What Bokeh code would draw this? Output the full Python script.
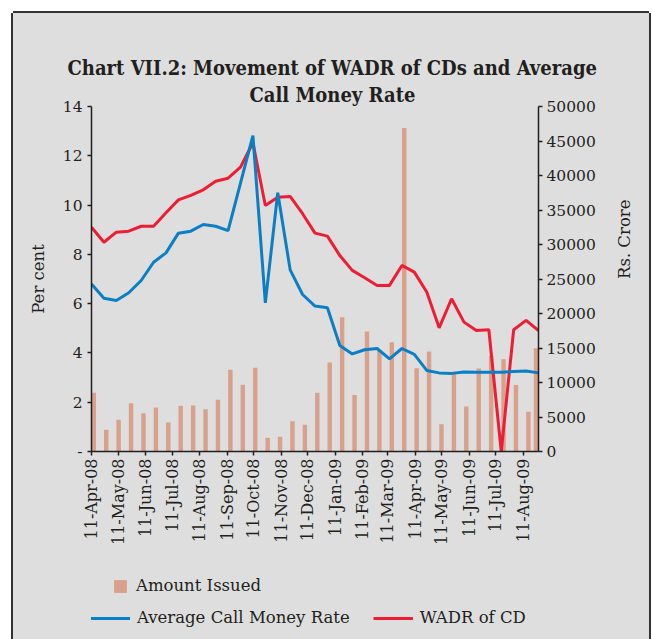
import math
import pandas as pd
from bokeh.plotting import figure
from bokeh.layouts import column
from bokeh.models import Range1d, LinearAxis, FixedTicker, Legend, LegendItem, Title
from bokeh.embed import file_html
from bokeh.resources import INLINE

# ---------------- data ----------------
dates = ["2008-04-11", "2008-04-25", "2008-05-09", "2008-05-23", "2008-06-06", "2008-06-20",
         "2008-07-04", "2008-07-18", "2008-08-01", "2008-08-15", "2008-08-29", "2008-09-12",
         "2008-09-26", "2008-10-10", "2008-10-24", "2008-11-07", "2008-11-21", "2008-12-05",
         "2008-12-19", "2009-01-02", "2009-01-16", "2009-01-30", "2009-02-13", "2009-02-27",
         "2009-03-13", "2009-03-27", "2009-04-10", "2009-04-24", "2009-05-08", "2009-05-22",
         "2009-06-05", "2009-06-19", "2009-07-03", "2009-07-17", "2009-07-31", "2009-08-14",
         "2009-08-28"]

amount_issued = [8500, 3150, 4600, 7000, 5550, 6380, 4200, 6620, 6670, 6130, 7490, 11840,
                 9670, 12130, 1990, 2130, 4390, 3870, 8500, 12900, 19450, 8200, 17400, 14600,
                 15850, 46900, 12080, 14490, 3960, 11350, 6520, 12030, 13860, 13380, 9640,
                 5760, 14950]

call_money_rate = [6.80, 6.22, 6.13, 6.44, 6.94, 7.68, 8.06, 8.86, 8.94, 9.21, 9.14, 8.96,
                   10.89, 12.82, 6.03, 10.50, 7.37, 6.37, 5.90, 5.83, 4.30, 3.96, 4.13, 4.18,
                   3.76, 4.18, 3.94, 3.29, 3.19, 3.17, 3.23, 3.22, 3.22, 3.22, 3.25, 3.27, 3.19]

wadr_of_cd = [9.10, 8.49, 8.90, 8.94, 9.14, 9.14, 9.69, 10.21, 10.39, 10.62, 10.97, 11.09,
              11.54, 12.53, 9.98, 10.32, 10.35, 9.65, 8.86, 8.74, 7.95, 7.35, 7.05, 6.74,
              6.74, 7.55, 7.28, 6.47, 5.02, 6.20, 5.25, 4.91, 4.94, 0.00, 4.94, 5.32, 4.91]

x_tick_labels = ["11-Apr-08", "11-May-08", "11-Jun-08", "11-Jul-08", "11-Aug-08", "11-Sep-08",
                 "11-Oct-08", "11-Nov-08", "11-Dec-08", "11-Jan-09", "11-Feb-09", "11-Mar-09",
                 "11-Apr-09", "11-May-09", "11-Jun-09", "11-Jul-09", "11-Aug-09"]
left_ticks = [0, 2, 4, 6, 8, 10, 12, 14]
right_ticks = [0, 5000, 10000, 15000, 20000, 25000, 30000, 35000, 40000, 45000, 50000]

title_line1 = "Chart VII.2: Movement of WADR of CDs and Average"
title_line2 = "Call Money Rate"

# ---------------- styles ----------------
FONT = "DejaVu Serif"
TITLE_FONT = "'DejaVu Serif Condensed', 'DejaVu Serif'"
BG = "#DEDEDE"
TXT = "#231F20"
BAR = "#D9A08B"
BLUE = "#0A7FC4"
RED = "#EE1D34"

d = [pd.Timestamp(s).to_pydatetime() for s in dates]
x_start, x_end = d[0], d[-1]
shift = pd.Timedelta(days=2.6).to_pytimedelta()
edge = pd.Timedelta(days=2.8).to_pytimedelta()
bar_x = [min(t + shift, x_end - edge) for t in d]
bar_w = 5 * 86400000

tick_dt = [pd.to_datetime(s, format="%d-%b-%y") for s in x_tick_labels]
tick_ms = [int(t.value // 10**6) for t in tick_dt]

W = 636
H_MAIN = 540
H_LEG = 86

p = figure(width=W, height=H_MAIN, x_axis_type="datetime",
           x_range=Range1d(x_start, x_end), y_range=Range1d(0, 14),
           output_backend="svg", toolbar_location=None,
           min_border_left=78, min_border_right=111, min_border_top=93,
           min_border_bottom=H_MAIN - 93 - 345)
p.background_fill_color = BG
p.border_fill_color = BG
p.outline_line_color = None
p.grid.grid_line_color = None

p.extra_y_ranges = {"amt": Range1d(0, 50000)}

xa = p.below[0]   # the date axis below the frame
yl = p.left[0]

bars = p.vbar(x=bar_x, top=amount_issued, width=bar_w, y_range_name="amt",
              fill_color=BAR, line_color=None)
red = p.line(d, wadr_of_cd, line_color=RED, line_width=3)
blue = p.line(d, call_money_rate, line_color=BLUE, line_width=3)

# --- above panel, stacked from the frame outwards: blank spacer, title line 2, title line 1
spacer = LinearAxis(ticker=FixedTicker(ticks=[]), axis_line_color=None,
                    major_tick_line_color=BG, minor_tick_line_color=None,
                    major_tick_out=32, major_tick_in=0, minor_tick_out=0,
                    major_label_standoff=0)
p.add_layout(spacer, "above")

title_kw = dict(align="left", vertical_align="bottom", text_font=TITLE_FONT,
                text_font_style="bold", text_font_size="20px", text_color=TXT)
t2 = Title(text=title_line2, standoff=0, offset=158, **title_kw)
p.add_layout(t2, "above")
p.title.text = title_line1
for k, v in title_kw.items():
    setattr(p.title, k, v)
p.title.standoff = 2
p.title.offset = -24


def style_axis(ax):
    ax.axis_line_color = TXT
    ax.axis_line_width = 1.5
    ax.major_tick_line_color = TXT
    ax.major_tick_line_width = 1.5
    ax.major_tick_in = 0
    ax.major_tick_out = 4
    ax.minor_tick_line_color = None
    ax.major_label_text_font = FONT
    ax.major_label_text_font_size = "15.5px"
    ax.major_label_text_color = TXT
    ax.axis_label_text_font = FONT
    ax.axis_label_text_font_size = "16.5px"
    ax.axis_label_text_font_style = "normal"
    ax.axis_label_text_color = TXT


style_axis(yl)
yl.ticker = FixedTicker(ticks=left_ticks)
yl.major_label_overrides = {0: "-"}
yl.axis_label = "Per cent"
yl.major_label_standoff = 5
yl.axis_label_standoff = 12

yr = LinearAxis(y_range_name="amt", ticker=FixedTicker(ticks=right_ticks), axis_label="Rs. Crore")
style_axis(yr)
yr.major_label_standoff = 4
yr.axis_label_standoff = 26
yr.axis_label_orientation = math.pi / 2
p.add_layout(yr, "right")

style_axis(xa)
xa.ticker = FixedTicker(ticks=tick_ms)
xa.major_label_overrides = {ms: lab for ms, lab in zip(tick_ms, x_tick_labels)}
xa.major_label_orientation = math.pi / 2
xa.major_label_standoff = 3
xa.major_label_text_font_size = "16px"

# ---------------- legend strip (its frame is aligned with the chart frame) ----------------
pl = figure(width=W, height=H_LEG, x_range=Range1d(x_start, x_end), y_range=Range1d(0, 14),
            x_axis_location=None, y_axis_location=None, min_border=0,
            output_backend="svg", toolbar_location=None)
pl.background_fill_alpha = 0
pl.border_fill_alpha = 0
pl.outline_line_color = None
pl.grid.grid_line_color = None
pl.extra_y_ranges = {"amt": Range1d(0, 50000)}
# hidden twins of the chart series, used only to draw the legend keys
lg_bar = pl.vbar(x=bar_x, top=amount_issued, width=bar_w, y_range_name="amt",
                 fill_color=BAR, line_color=None, visible=False)
lg_blue = pl.line(d, call_money_rate, line_color=BLUE, line_width=3, visible=False)
lg_red = pl.line(d, wadr_of_cd, line_color=RED, line_width=3, visible=False)

leg_common = dict(border_line_color=None, background_fill_alpha=0, padding=0, margin=0,
                  label_text_font=FONT, label_text_font_size="16.5px", label_text_color=TXT)
leg1 = Legend(items=[LegendItem(label="Amount Issued", renderers=[lg_bar])],
              location=(21, 44), orientation="vertical",
              glyph_width=16, glyph_height=16, label_height=16, label_standoff=8, **leg_common)
leg2 = Legend(items=[LegendItem(label="Average Call Money Rate", renderers=[lg_blue]),
                     LegendItem(label="WADR of CD", renderers=[lg_red])],
              location=(-1, 12), orientation="horizontal",
              glyph_width=40, glyph_height=16, label_height=16, label_standoff=7, spacing=23,
              **leg_common)
pl.add_layout(leg1)
pl.add_layout(leg2)

layout = column(p, pl, spacing=0)
layout.margin = (13, 0, 0, 13)
layout.styles = {"background-color": BG,
                 "box-shadow": "-2px 0 0 0 #333333, 2px 0 0 0 #333333, 0 -2px 0 0 #333333"}

open("out.html", "w").write(file_html(layout, INLINE))
